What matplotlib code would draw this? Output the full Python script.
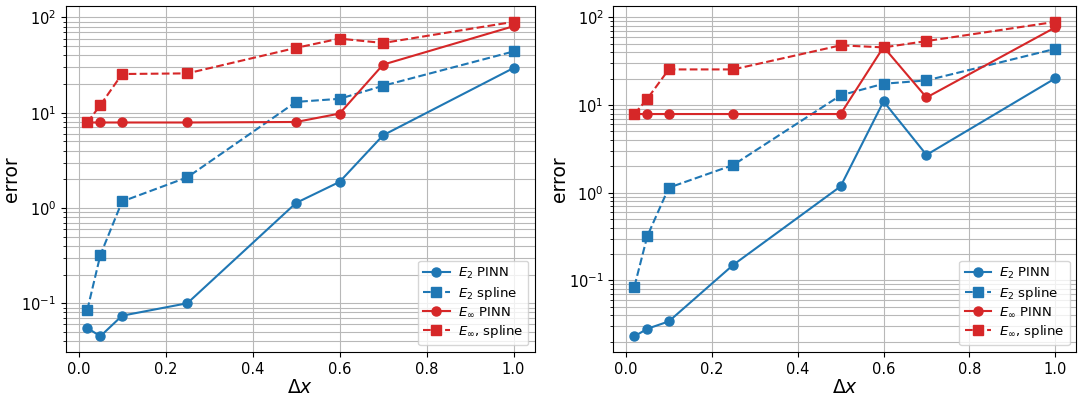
import matplotlib.pyplot as plt
import numpy as np

plt.switch_backend('Agg')

dx = [0.02, 0.05, 0.1, 0.25, 0.5, 0.6, 0.7, 1.0]

# left case
e2_pinn_a = [0.055, 0.045, 0.074, 0.10, 1.13, 1.88, 5.8, 29.5]
e2_spline_a = [0.085, 0.32, 1.17, 2.1, 13.0, 14.0, 19.2, 44.0]
einf_pinn_a = [7.9, 7.9, 7.9, 7.9, 8.0, 9.8, 32.0, 81.0]
einf_spline_a = [7.9, 12.0, 25.5, 25.9, 48.0, 60.0, 54.0, 90.0]

# right case
e2_pinn_b = [0.023, 0.028, 0.034, 0.15, 1.18, 11.0, 2.7, 20.2]
e2_spline_b = [0.085, 0.32, 1.14, 2.07, 12.9, 17.5, 19.1, 43.8]
einf_pinn_b = [7.9, 7.9, 7.9, 7.9, 7.9, 46.0, 12.2, 77.0]
einf_spline_b = [7.9, 11.8, 25.5, 25.5, 48.0, 45.5, 53.7, 89.0]

labels = [r'$E_2$ PINN', r'$E_2$ spline', r'$E_\infty$ PINN', r'$E_\infty$, spline']
BLUE = '#1f77b4'
RED = '#d62728'

fig = plt.figure(figsize=(10.78, 3.98), dpi=100)
ax1 = fig.add_axes([0.0612, 0.1156, 0.435, 0.869])
ax2 = fig.add_axes([0.569, 0.1156, 0.4295, 0.869])

panels = [
    (ax1, e2_pinn_a, e2_spline_a, einf_pinn_a, einf_spline_a),
    (ax2, e2_pinn_b, e2_spline_b, einf_pinn_b, einf_spline_b),
]

for ax, e2p, e2s, eip, eis in panels:
    ax.plot(dx, e2p, '-o', color=BLUE, ms=6.5, lw=1.5, label=labels[0])
    ax.plot(dx, e2s, '--s', color=BLUE, ms=6.5, lw=1.5, label=labels[1])
    ax.plot(dx, eip, '-o', color=RED, ms=6.5, lw=1.5, label=labels[2])
    ax.plot(dx, eis, '--s', color=RED, ms=6.5, lw=1.5, label=labels[3])
    ax.set_yscale('log')
    ax.grid(True, which='major', color='#b8b8b8', lw=0.8)
    ax.grid(True, which='minor', axis='y', color='#b8b8b8', lw=0.8)
    ax.set_xlabel(r'$\Delta x$', fontsize=13.5, labelpad=1)
    ax.set_ylabel('error', fontsize=13.5, labelpad=0)
    ax.tick_params(labelsize=10.5)
    ax.set_xticks(np.arange(0, 1.01, 0.2))
    ax.legend(loc='lower right', fontsize=9.5, handlelength=2.0,
              labelspacing=0.3, borderpad=0.4, handletextpad=0.6)

fig.savefig('out.png', dpi=100)
